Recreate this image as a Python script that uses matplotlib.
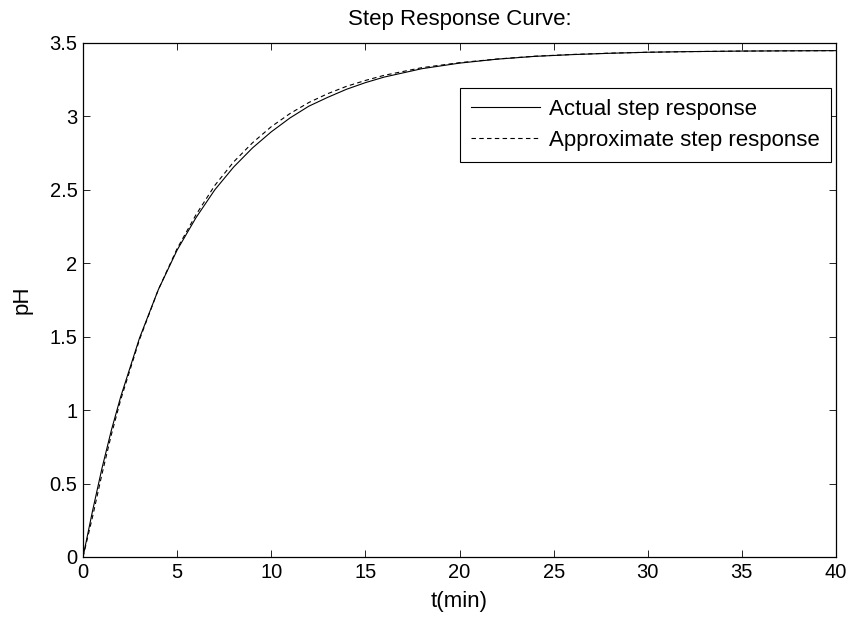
import matplotlib
matplotlib.use("Agg")
import matplotlib.pyplot as plt

# Data
t = [0, 0.5, 1, 1.5, 2, 3, 4, 5, 6, 7, 8, 9, 10, 11, 12, 13, 14, 15, 16,
     18, 20, 22, 24, 26, 28, 30, 32, 35, 38, 40]
actual = [0, 0.31, 0.60, 0.86, 1.09, 1.49, 1.82, 2.09, 2.31, 2.50, 2.655,
          2.785, 2.895, 2.99, 3.07, 3.13, 3.185, 3.23, 3.268, 3.325, 3.363,
          3.39, 3.409, 3.421, 3.43, 3.437, 3.441, 3.445, 3.447, 3.448]
approx = [0, 0.27, 0.56, 0.83, 1.07, 1.48, 1.82, 2.10, 2.33, 2.53, 2.69,
          2.82, 2.93, 3.02, 3.095, 3.155, 3.205, 3.245, 3.28, 3.332, 3.366,
          3.391, 3.41, 3.422, 3.431, 3.437, 3.441, 3.445, 3.447, 3.448]
xticks = [0, 5, 10, 15, 20, 25, 30, 35, 40]
yticks = [0, 0.5, 1, 1.5, 2, 2.5, 3, 3.5]

plt.rcParams['font.family'] = ['Liberation Sans', 'DejaVu Sans']

fig = plt.figure(figsize=(8.52, 6.22), dpi=100)
ax = fig.add_axes([83/852, 1 - 557/622, (836 - 83)/852, (557 - 43)/622])

ax.plot(t, actual, color='black', linewidth=0.8, label='Actual step response')
ax.plot(t, approx, color='black', linewidth=0.8, linestyle=(0, (4, 3)),
        label='Approximate step response')

ax.set_xlim(0, 40)
ax.set_ylim(0, 3.5)
ax.set_xticks(xticks)
ax.set_xticklabels([f"{v:g}" for v in xticks])
ax.set_yticks(yticks)
ax.set_yticklabels([f"{v:g}" for v in yticks])
ax.tick_params(direction='in', length=5, width=0.6, top=True, right=True,
               labelsize=14.5, pad=4)
for s in ax.spines.values():
    s.set_linewidth(0.9)

ax.set_xlabel('t(min)', fontsize=16, labelpad=7)
ax.set_ylabel('pH', fontsize=16, labelpad=12)
ax.set_title('Step Response Curve:', fontsize=16, pad=13)

leg = ax.legend(loc='upper right', bbox_to_anchor=((831 - 83)/753, (557 - 88)/514),
                fontsize=16, frameon=True, fancybox=False, edgecolor='black',
                framealpha=1, handlelength=3.1, borderpad=0.5, labelspacing=0.45,
                handletextpad=0.4, borderaxespad=0)
leg.get_frame().set_linewidth(0.8)

fig.savefig('out.png', dpi=100)
